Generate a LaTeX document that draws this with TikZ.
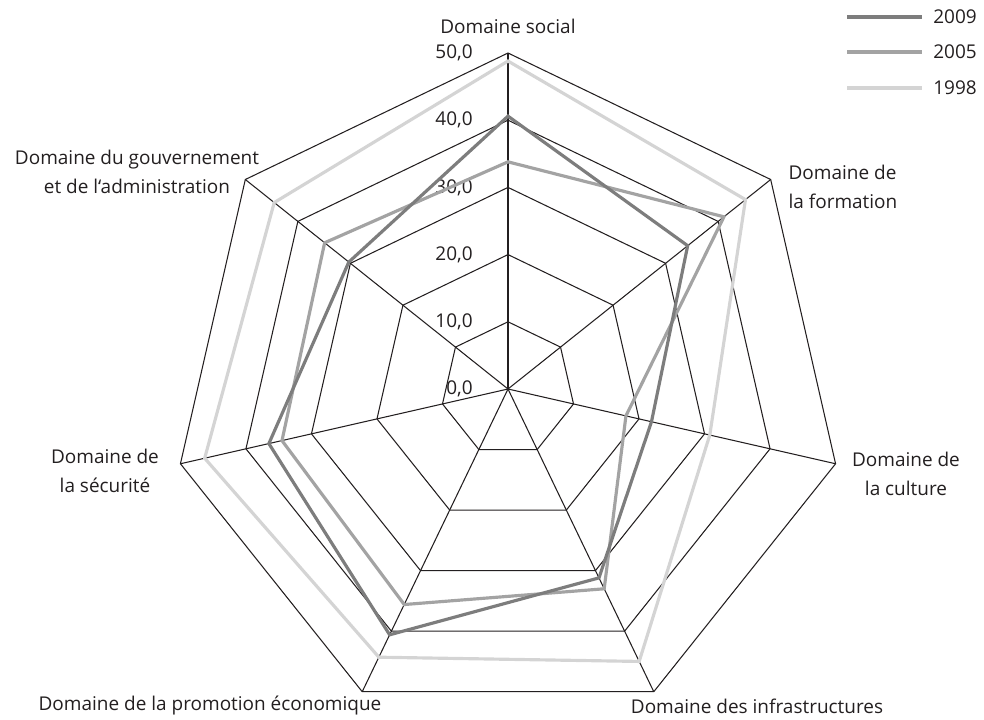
\documentclass[tikz,border=0pt]{standalone}
\usepackage{fontspec}
\setmainfont{Open Sans}
\usepackage{tikz}
\usetikzlibrary{positioning}
\definecolor{inkgrey}{RGB}{35,31,32}
\definecolor{yeardark}{RGB}{125,125,125}
\definecolor{yearmid}{RGB}{163,163,163}
\definecolor{yearlight}{RGB}{212,212,212}

\tikzset{
  gridline/.style={draw=inkgrey, line width=0.6pt},
  seriesline/.style={line width=1.8pt, line join=miter},
  axislabel/.style={align=center, inner sep=0pt},
  ticklabel/.style={anchor=east, inner sep=0pt},
  legendlabel/.style={anchor=west, inner sep=0pt}
}
\def\u{6.72}

\begin{document}
\begin{tikzpicture}[x=0.02cm, y=0.02cm, font=\fontsize{10.8}{16.5}\selectfont, text=inkgrey]
  \useasboundingbox (0,0) rectangle (984,720);

  \begin{scope}[shift={(508,331)}]
    \coordinate (c) at (0,0);
    % rings
    \foreach \r in {10,20,...,50}
      \draw[gridline] (90:{\r*\u}) \foreach \k in {1,...,6} { -- ({90-\k*360/7}:{\r*\u}) } -- cycle;
    % spokes
    \foreach \k in {0,...,6} {
      \coordinate (v\k) at ({90-\k*360/7}:{50*\u});
      \draw[gridline] (c) -- (v\k);
    }
    % scale
    \foreach \r in {0,10,...,50}
      \node[ticklabel] (t\r) at (-35,{\r*\u}) {\r,0};

    % 1998
    \draw[seriesline, yearlight] (90:{48.8*\u}) -- (38.57:{45.2*\u}) -- (-12.86:{30.8*\u})
      -- (-64.29:{45*\u}) -- (-115.71:{44.3*\u}) -- (-167.14:{46.3*\u}) -- (141.43:{44.5*\u}) -- cycle;
    % 2005
    \draw[seriesline, yearmid] (90:{33.8*\u}) -- (38.57:{41.1*\u}) -- (-12.86:{18*\u})
      -- (-64.29:{33*\u}) -- (-115.71:{35.6*\u}) -- (-167.14:{34.5*\u}) -- (141.43:{34.9*\u}) -- cycle;
    % 2009
    \draw[seriesline, yeardark] (90:{40.6*\u}) -- (38.57:{34.2*\u}) -- (-12.86:{21.9*\u})
      -- (-64.29:{31.2*\u}) -- (-115.71:{40.6*\u}) -- (-167.14:{36.5*\u}) -- (141.43:{30.3*\u}) -- cycle;
  \end{scope}

  % axis labels
  \node[axislabel] (social) at (508,694) {Domaine social};
  \node[axislabel, align=left] (formation) at (843,533) {Domaine de\\la formation};
  \node[axislabel] (culture) at (906,246) {Domaine de\\la culture};
  \node[axislabel] (infra) at (757,14) {Domaine des infrastructures};
  \node[axislabel] (promo) at (210,14) {Domaine de la promotion économique};
  \node[axislabel] (securite) at (105,249) {Domaine de\\la sécurité};
  \node[axislabel] (gouv) at (137,548) {Domaine du gouvernement\\et de l‘administration};

  % legend
  \node[legendlabel] (l2009) at (933,703) {2009};
  \node[legendlabel] (l2005) at (933,668) {2005};
  \node[legendlabel] (l1998) at (933,632) {1998};
  \coordinate (k2009) at (847,703);
  \coordinate (k2005) at (847,668);
  \coordinate (k1998) at (847,632);
  \draw[seriesline, yeardark, shorten >=6.2pt] (k2009) -- (l2009.west);
  \draw[seriesline, yearmid, shorten >=6.2pt] (k2005) -- (l2005.west);
  \draw[seriesline, yearlight, shorten >=6.2pt] (k1998) -- (l1998.west);
\end{tikzpicture}
\end{document}
